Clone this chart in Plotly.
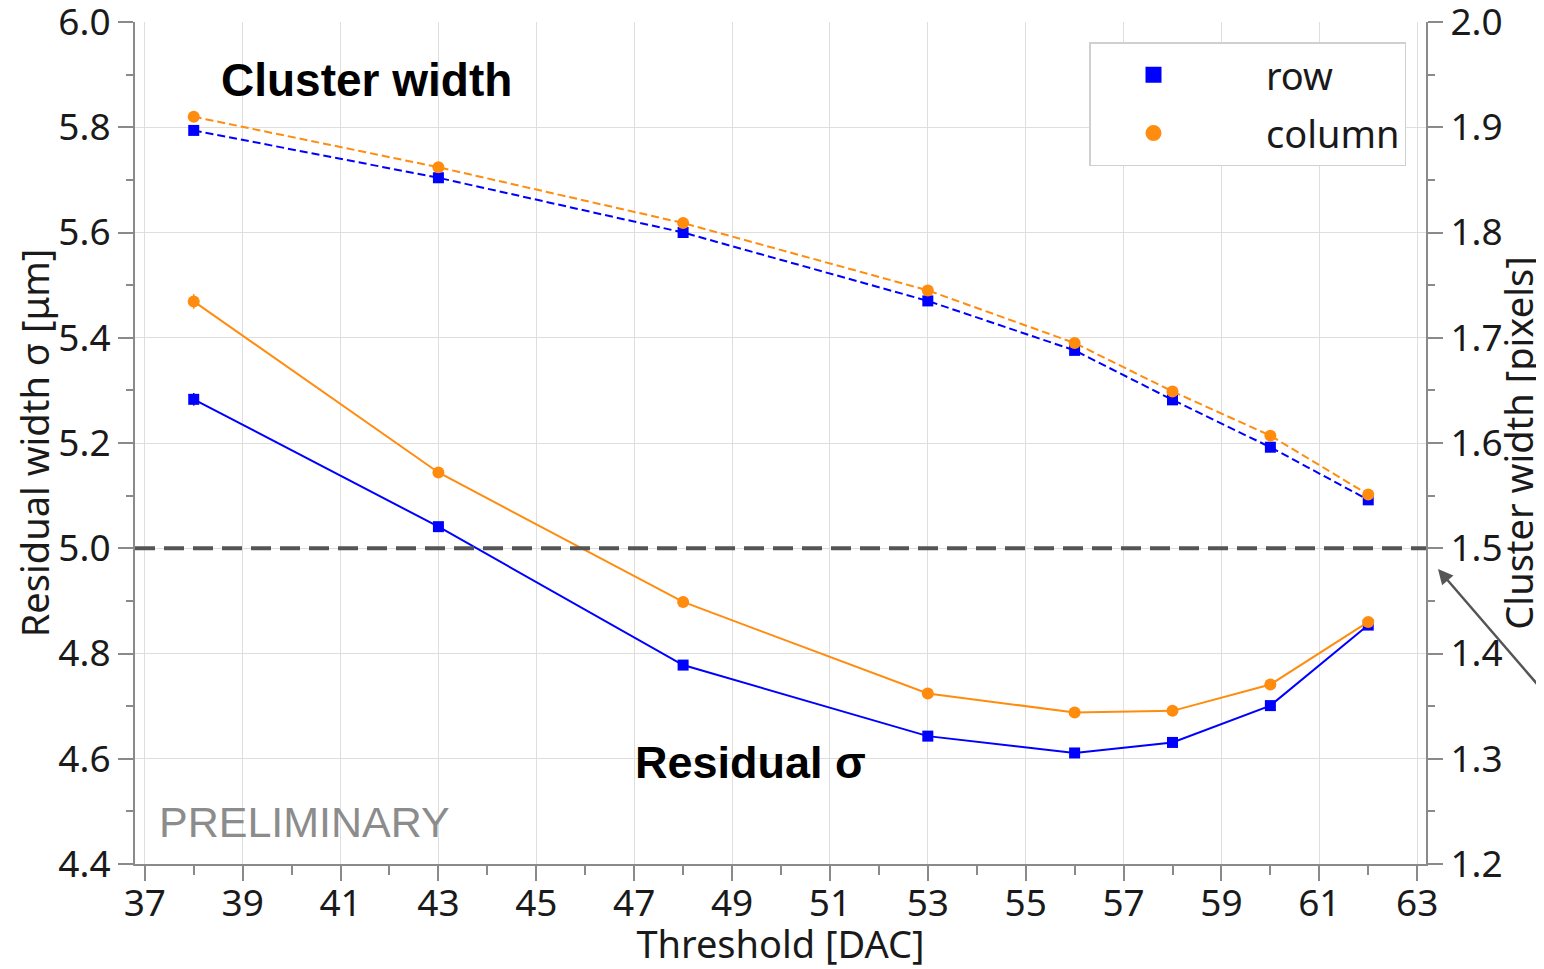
import plotly.graph_objects as go

# ---- data ----
threshold = [38, 43, 48, 53, 56, 58, 60, 62]
resid_row = [5.283, 5.041, 4.778, 4.643, 4.611, 4.631, 4.701, 4.854]
resid_col = [5.469, 5.144, 4.898, 4.724, 4.688, 4.691, 4.741, 4.860]
resid_row_err = [0.012, 0.008, 0.008, 0.007, 0.007, 0.007, 0.008, 0.009]
resid_col_err = [0.014, 0.008, 0.008, 0.007, 0.007, 0.007, 0.008, 0.009]
cw_row = [1.897, 1.852, 1.800, 1.735, 1.688, 1.641, 1.596, 1.546]
cw_col = [1.910, 1.862, 1.809, 1.745, 1.695, 1.649, 1.607, 1.551]
limit_resid = 5.0
legend_names = ["row", "column"]

BLUE = "#0000ff"
ORANGE = "#ff8c0f"
TXT = "#1a1a1a"
AX = "#8a8a8a"
GRID = "#dedede"
FONT = "Noto Sans"

# page body has an 8px margin -> figure is offset by 8px
W, H = 1536, 961
L, R, T, B = 127, 118, 14, 105
PW = W - L - R
PH = H - T - B


def px(xp):  # page x -> paper fraction
    return (xp - 8 - L) / PW


def py(yp):  # page y -> paper fraction
    return 1 - (yp - 8 - T) / PH


fig = go.Figure()

# residual sigma (left axis)
fig.add_trace(go.Scatter(x=threshold, y=resid_row, mode="lines+markers",
                         line=dict(color=BLUE, width=2),
                         marker=dict(symbol="square", size=11, color=BLUE),
                         error_y=dict(type="data", array=resid_row_err, color=BLUE, thickness=1.5, width=0),
                         showlegend=False, yaxis="y"))
fig.add_trace(go.Scatter(x=threshold, y=resid_col, mode="lines+markers",
                         line=dict(color=ORANGE, width=2),
                         marker=dict(symbol="circle", size=12, color=ORANGE),
                         error_y=dict(type="data", array=resid_col_err, color=ORANGE, thickness=1.5, width=0),
                         showlegend=False, yaxis="y"))
# cluster width (right axis)
fig.add_trace(go.Scatter(x=threshold, y=cw_row, mode="lines+markers",
                         line=dict(color=BLUE, width=2, dash="8px,4px"),
                         marker=dict(symbol="square", size=11, color=BLUE),
                         showlegend=False, yaxis="y2"))
fig.add_trace(go.Scatter(x=threshold, y=cw_col, mode="lines+markers",
                         line=dict(color=ORANGE, width=2, dash="8px,4px"),
                         marker=dict(symbol="circle", size=12, color=ORANGE),
                         showlegend=False, yaxis="y2"))

# legend-only entries
pad = "\u00a0" * 5
fig.add_trace(go.Scatter(x=[None], y=[None], mode="markers", name=pad + legend_names[0],
                         marker=dict(symbol="square", size=20, color=BLUE),
                         legendgroup="a"))
fig.add_trace(go.Scatter(x=[None], y=[None], mode="markers", name=pad + legend_names[1],
                         marker=dict(symbol="circle", size=20, color=ORANGE),
                         legendgroup="b"))

# 5.0 reference line
fig.add_shape(type="line", xref="paper", x0=0, x1=1, yref="y", y0=limit_resid, y1=limit_resid,
              line=dict(color="#555555", width=4, dash="20px,9px"))

# text annotations
fig.add_annotation(text="<b>Cluster width</b>", xref="paper", yref="paper",
                   x=px(219), y=py(80), xanchor="left", yanchor="middle",
                   showarrow=False, font=dict(family="Liberation Sans", size=46, color="#000"))
fig.add_annotation(text="<b>Residual σ</b>", xref="paper", yref="paper",
                   x=px(633), y=py(762), xanchor="left", yanchor="middle",
                   showarrow=False, font=dict(family="Liberation Sans", size=45, color="#000"))
fig.add_annotation(text="PRELIMINARY", xref="paper", yref="paper",
                   x=px(157), y=py(822), xanchor="left", yanchor="middle",
                   showarrow=False, font=dict(family="Liberation Sans", size=43, color="#8c8c8c"))
# arrow pointing at the 1.5 level
fig.add_annotation(text="", xref="paper", yref="paper",
                   x=px(1438), y=py(569),
                   ax=120, ay=123, showarrow=True, arrowhead=2, arrowsize=1.2,
                   arrowwidth=2.5, arrowcolor="#555555", standoff=0)

fig.update_layout(
    width=W, height=H,
    margin=dict(l=L, r=R, t=T, b=B),
    paper_bgcolor="white", plot_bgcolor="white",
    font=dict(family=FONT, size=37, color=TXT),
    xaxis=dict(range=[36.8, 63.18], tick0=37, dtick=2, ticks="outside", ticklen=15, tickwidth=1.5,
               tickcolor=AX, showline=True, linecolor=AX, linewidth=2, showgrid=True,
               gridcolor=GRID, gridwidth=1, zeroline=False,
               minor=dict(dtick=1, tick0=37, ticks="outside", ticklen=9, tickcolor=AX, showgrid=False),
               title=dict(text="Threshold [DAC]", font=dict(size=38), standoff=5),
               tickfont=dict(size=37), ticklabelstandoff=-9, automargin=False),
    yaxis=dict(range=[4.4, 6.0], dtick=0.2, tickformat=".1f", ticks="outside", ticklen=15,
               tickwidth=1.5, tickcolor=AX, showline=True, linecolor=AX, linewidth=2,
               showgrid=True, gridcolor=GRID, gridwidth=1, zeroline=False,
               minor=dict(dtick=0.1, ticks="outside", ticklen=7, tickcolor=AX, showgrid=False),
               title=dict(text="Residual width σ [μm]", font=dict(size=38), standoff=12),
               tickfont=dict(size=37), ticklabeloverflow="allow", automargin=False),
    yaxis2=dict(range=[1.2, 2.0], dtick=0.1, tickformat=".1f", overlaying="y", side="right",
                ticks="outside", ticklen=15, tickwidth=1.5, tickcolor=AX, showline=True,
                linecolor=AX, linewidth=2, showgrid=False, zeroline=False,
                minor=dict(dtick=0.05, ticks="outside", ticklen=7, tickcolor=AX),
                title=dict(text="Cluster width [pixels]", font=dict(size=38), standoff=14),
                tickfont=dict(size=37), ticklabeloverflow="allow", automargin=False),
    legend=dict(x=px(1406), y=py(42), xanchor="right", yanchor="top",
                bgcolor="white", bordercolor="#d0d0d0", borderwidth=1.5,
                font=dict(size=38, color=TXT), itemwidth=116, tracegroupgap=6),
)

fig.write_html("out.html")
